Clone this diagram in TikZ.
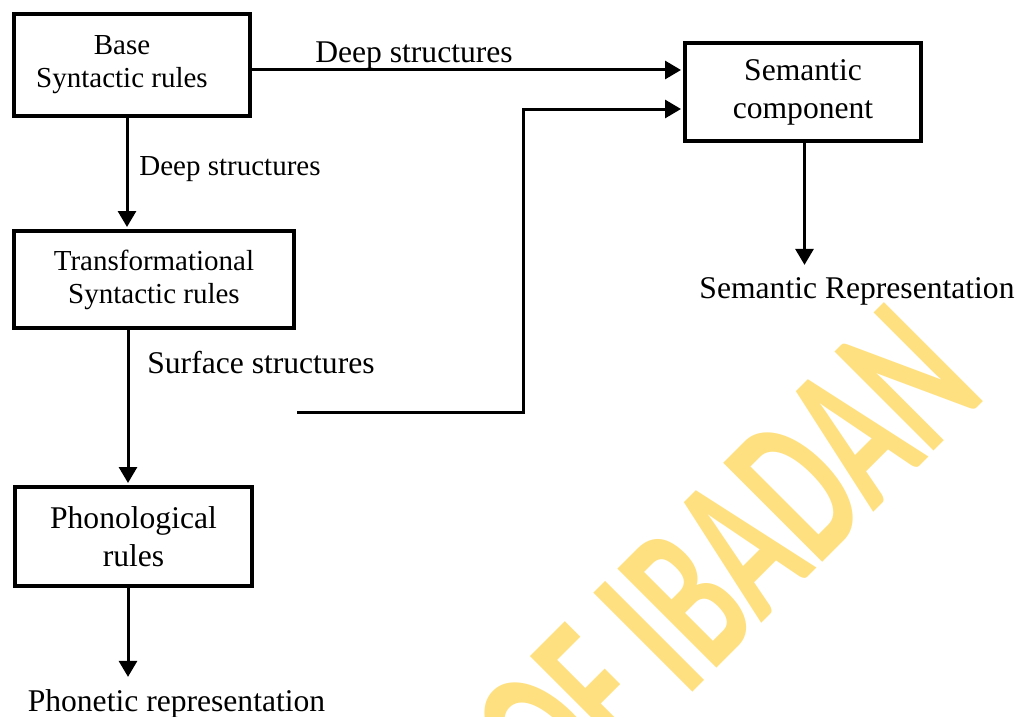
\documentclass[tikz,border=0pt]{standalone}
\usepackage{fontspec}
\setmainfont{Liberation Serif}
\newfontfamily\markfont{Carlito}
\usetikzlibrary{arrows.meta,positioning}
\definecolor{markyellow}{RGB}{255,224,128}

\begin{document}
\begin{tikzpicture}[x=1pt,y=1pt,
    rulebox/.style={draw, line width=4pt, align=center, inner sep=0pt},
    flow/.style={line width=3pt, -{Triangle[length=16pt,width=18pt]}},
    smalltext/.style={font=\fontsize{29}{33}\selectfont},
    bigtext/.style={font=\fontsize{31.6}{38}\selectfont}]
  \useasboundingbox (0,0) rectangle (1025,-717);
  % watermark
  \node[text=markyellow, rotate=45, inner sep=0pt,
        font=\markfont\bfseries\fontsize{216}{216}\selectfont] (mark) at (726,-560)
        {\scalebox{0.6}[1]{OF IBADAN}};
  %
  \node[rulebox, smalltext, minimum width=236pt, minimum height=102pt] (base) at (132,-65) {Base\hspace*{20pt}\\Syntactic rules\hspace*{20pt}};
  \node[rulebox, smalltext, minimum width=280pt, minimum height=97pt] (trans) at (154,-279.5) {Transformational\\Syntactic rules};
  \node[rulebox, bigtext, minimum width=237pt, minimum height=99pt] (phon) at (133.5,-536.5) {Phonological\\rules};
  \node[rulebox, bigtext, minimum width=236pt, minimum height=98pt] (sem) at (803,-92) {Semantic\\component};
  %
  \node[bigtext, anchor=base, inner sep=0pt] (phonrep) at (176.5,-711) {Phonetic representation};
  \node[bigtext, anchor=base, inner sep=0pt] (semrep) at (857,-298) {Semantic Representation};
  \node[bigtext, anchor=base, inner sep=0pt] (deeptop) at (414,-63) {Deep structures};
  \node[smalltext, anchor=base, inner sep=0pt] (deepside) at (230,-175) {Deep structures};
  \node[bigtext, anchor=base, inner sep=0pt] (surf) at (261,-373) {Surface structures};
  \coordinate (surfend) at (297,-412);
  %
  \draw[flow, shorten >=2pt] ([yshift=-5pt]base.east) -- ([yshift=-5pt]base.east -| sem.west);
  \draw[flow, shorten >=2pt] (surfend) -- ++(226,0) |- ([yshift=-17pt]sem.west);
  \draw[flow, shorten >=2pt] ([xshift=-5pt]base.south) -- ([xshift=-5pt]base.south |- trans.north);
  \draw[flow, shorten >=2pt] ([xshift=-26pt]trans.south) -- ([xshift=-26pt]trans.south |- phon.north);
  \draw[flow, shorten >=12pt] ([xshift=-5.5pt]phon.south) -- ([xshift=-5.5pt]phon.south |- phonrep.north);
  \draw[flow, shorten >=12pt] ([xshift=1.5pt]sem.south) -- ([xshift=1.5pt]sem.south |- semrep.north);
\end{tikzpicture}
\end{document}
